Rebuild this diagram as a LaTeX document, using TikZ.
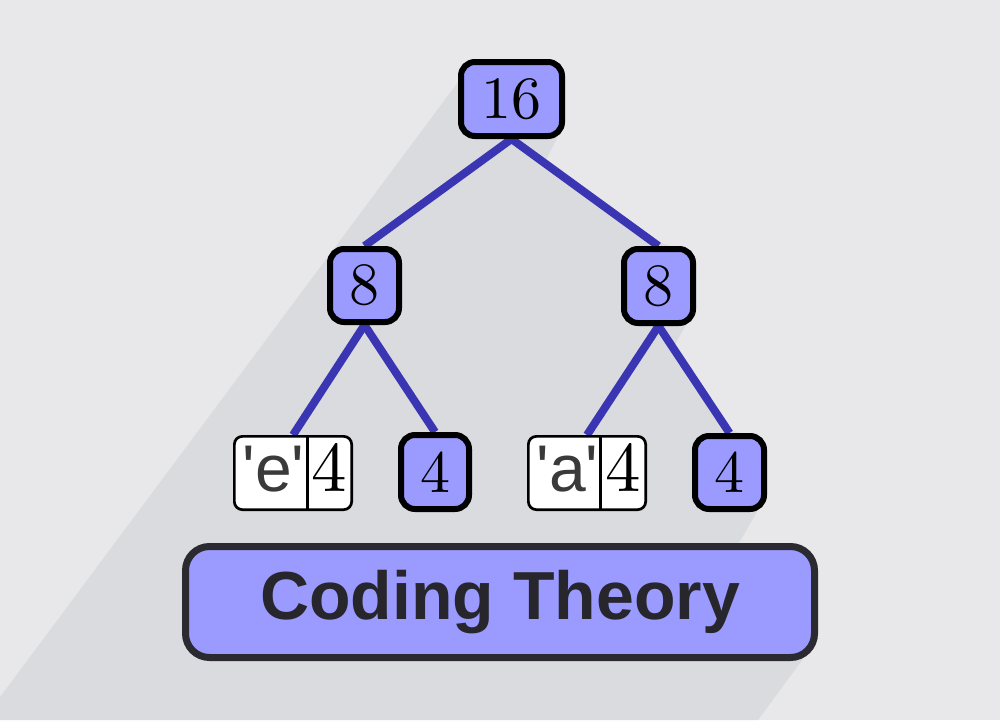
\documentclass[tikz,border=0pt]{standalone}
\usepackage{fontspec}
\newfontfamily\labelsans[Ligatures=TeXOff]{Liberation Sans}
\newfontfamily\bannersans{Liberation Sans}
\newfontfamily\digitfont[Extension=.otf]{lmroman10-regular}
\pgfdeclarelayer{back}
\pgfsetlayers{back,main}
\definecolor{bgcol}{HTML}{E8E8EA}
\definecolor{shadecol}{HTML}{DADBDE}
\definecolor{nodefill}{HTML}{9A9AFF}
\definecolor{edgecol}{HTML}{3A35B3}
\definecolor{bannerline}{HTML}{2A2A30}
\definecolor{bannertext}{HTML}{26262C}
\definecolor{lettercol}{HTML}{3A3A3A}
\begin{document}
\begin{tikzpicture}[x=1pt,y=-1pt,
  treenode/.style={draw=black, line width=6pt, fill=nodefill, rounded corners=14pt,
    inner sep=0pt, font=\digitfont\fontsize{60}{60}\selectfont},
  pairbox/.style={draw=black, line width=2.7pt, fill=white, rounded corners=8pt,
    inner sep=0pt, minimum width=117.3pt, minimum height=73.3pt},
  pairletter/.style={anchor=base, inner sep=0pt, text=lettercol,
    font=\labelsans\fontsize{66}{66}\selectfont},
  pairnum/.style={anchor=base, inner sep=0pt, font=\digitfont\fontsize{71}{71}\selectfont},
  divider/.style={draw=black, line width=2.5pt},
  treeedge/.style={draw=edgecol, line width=8pt},
  banner/.style={draw=bannerline, line width=7pt, fill=nodefill, rounded corners=24pt,
    minimum width=629pt, minimum height=111pt, inner sep=0pt,
    font=\bannersans\bfseries\fontsize{68}{68}\selectfont, text=bannertext}
]
\useasboundingbox (0,0) rectangle (1000,720);

% tree nodes
\node[treenode, minimum width=101pt, minimum height=74pt] (root) at (511.5,99) {16};
\node[treenode, minimum width=69pt, minimum height=73pt] (leftmid) at (364.5,285.5) {8};
\node[treenode, minimum width=69pt, minimum height=74pt] (rightmid) at (658.5,286) {8};
\node[treenode, minimum width=68pt, minimum height=74pt] (leftleaf) at (435,472) {4};
\node[treenode, minimum width=69pt, minimum height=73pt] (rightleaf) at (729.5,472.5) {4};

% pair boxes
\node[pairbox] (ebox) at (293,473) {};
\node[pairletter] (eletter) at (273.5,491) {'e'};
\node[pairnum] (enum) at (329.5,491) {4};
\draw[divider] ([xshift=-45.3pt]ebox.north east) -- ([xshift=-45.3pt]ebox.south east);

\node[pairbox] (abox) at (587,473) {};
\node[pairletter] (aletter) at (567.5,491) {'a'};
\node[pairnum] (anum) at (623.5,491) {4};
\draw[divider] ([xshift=-46.3pt]abox.north east) -- ([xshift=-46.3pt]abox.south east);

% banner
\node[banner] (title) at (500,602) {Coding Theory};

\begin{pgfonlayer}{back}
  \fill[bgcol] (0,0) rectangle (1000,720);
  \fill[shadecol] (470,66) -- (555,66) -- (560,132)
    -- (546.4,159.4) -- (661,243) -- (690,252) -- (690,318)
    -- (675.2,344) -- (732.8,430.8) -- (761,439) -- (761,505)
    -- (736.6,547) -- (805,556) -- (808,645) -- (811,648) -- (758,720)
    -- (-17,720) -- cycle;
  \draw[treeedge] (root.south) -- (leftmid.north);
  \draw[treeedge] (root.south) -- (rightmid.north);
  \draw[treeedge] (leftmid.south) -- (ebox.north);
  \draw[treeedge] (leftmid.south) -- (leftleaf.north);
  \draw[treeedge] (rightmid.south) -- (abox.north);
  \draw[treeedge] (rightmid.south) -- (rightleaf.north);
\end{pgfonlayer}
\end{tikzpicture}
\end{document}
